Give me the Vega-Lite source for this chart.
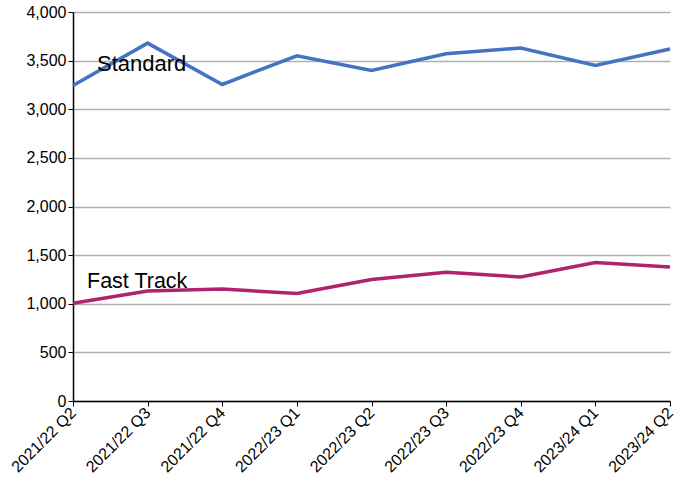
{
  "$schema": "https://vega.github.io/schema/vega-lite/v6.json",
  "width": 597,
  "height": 389,
  "autosize": "none",
  "padding": {"left": 73, "top": 12, "right": 19, "bottom": 94},
  "background": "white",
  "config": {
    "font": "Liberation Sans",
    "view": {"stroke": null}
  },
  "datasets": {
    "series": [
      {"quarter": "2021/22 Q2", "series": "Standard", "value": 3245},
      {"quarter": "2021/22 Q3", "series": "Standard", "value": 3680},
      {"quarter": "2021/22 Q4", "series": "Standard", "value": 3255},
      {"quarter": "2022/23 Q1", "series": "Standard", "value": 3550},
      {"quarter": "2022/23 Q2", "series": "Standard", "value": 3400},
      {"quarter": "2022/23 Q3", "series": "Standard", "value": 3570},
      {"quarter": "2022/23 Q4", "series": "Standard", "value": 3630},
      {"quarter": "2023/24 Q1", "series": "Standard", "value": 3450},
      {"quarter": "2023/24 Q2", "series": "Standard", "value": 3620},
      {"quarter": "2021/22 Q2", "series": "Fast Track", "value": 1005},
      {"quarter": "2021/22 Q3", "series": "Fast Track", "value": 1130},
      {"quarter": "2021/22 Q4", "series": "Fast Track", "value": 1152},
      {"quarter": "2022/23 Q1", "series": "Fast Track", "value": 1105},
      {"quarter": "2022/23 Q2", "series": "Fast Track", "value": 1250},
      {"quarter": "2022/23 Q3", "series": "Fast Track", "value": 1325},
      {"quarter": "2022/23 Q4", "series": "Fast Track", "value": 1275},
      {"quarter": "2023/24 Q1", "series": "Fast Track", "value": 1425},
      {"quarter": "2023/24 Q2", "series": "Fast Track", "value": 1378}
    ],
    "labels": [
      {"quarter": "2021/22 Q2", "series": "Standard", "value": 3465},
      {"quarter": "2021/22 Q2", "series": "Fast Track", "value": 1224}
    ]
  },
  "layer": [
    {
      "data": {"name": "series"},
      "mark": {"type": "line", "strokeWidth": 3.5},
      "encoding": {
        "x": {
          "field": "quarter", "type": "ordinal",
          "scale": {"type": "point", "padding": 0},
          "axis": {
            "title": null, "labelAngle": -45, "labelAlign": "right", "labelBaseline": "middle",
            "labelFontSize": 16, "labelColor": "black", "labelPadding": 4,
            "domainColor": "black", "domainWidth": 1.5, "tickColor": "black", "tickSize": 5,
            "grid": false
          }
        },
        "y": {
          "field": "value", "type": "quantitative",
          "scale": {"domain": [0, 4000]},
          "axis": {
            "title": null, "values": [0, 500, 1000, 1500, 2000, 2500, 3000, 3500, 4000],
            "format": ",d", "labelFontSize": 16, "labelColor": "black", "labelPadding": 2,
            "domainColor": "black", "domainWidth": 1.5, "tickColor": "black", "tickSize": 5,
            "grid": true, "gridColor": "#b0b0b0", "gridWidth": 1.5
          }
        },
        "color": {
          "field": "series", "type": "nominal",
          "scale": {"domain": ["Standard", "Fast Track"], "range": ["#4472c4", "#b0236e"]},
          "legend": null
        }
      }
    },
    {
      "data": {"name": "labels"},
      "transform": [{"filter": "datum.series === 'Standard'"}],
      "mark": {"type": "text", "align": "left", "baseline": "middle", "fontSize": 22, "color": "black", "dx": 24},
      "encoding": {
        "x": {"field": "quarter", "type": "ordinal"},
        "y": {"field": "value", "type": "quantitative"},
        "text": {"field": "series"}
      }
    },
    {
      "data": {"name": "labels"},
      "transform": [{"filter": "datum.series === 'Fast Track'"}],
      "mark": {"type": "text", "align": "left", "baseline": "middle", "fontSize": 21.5, "color": "black", "dx": 14},
      "encoding": {
        "x": {"field": "quarter", "type": "ordinal"},
        "y": {"field": "value", "type": "quantitative"},
        "text": {"field": "series"}
      }
    }
  ]
}
